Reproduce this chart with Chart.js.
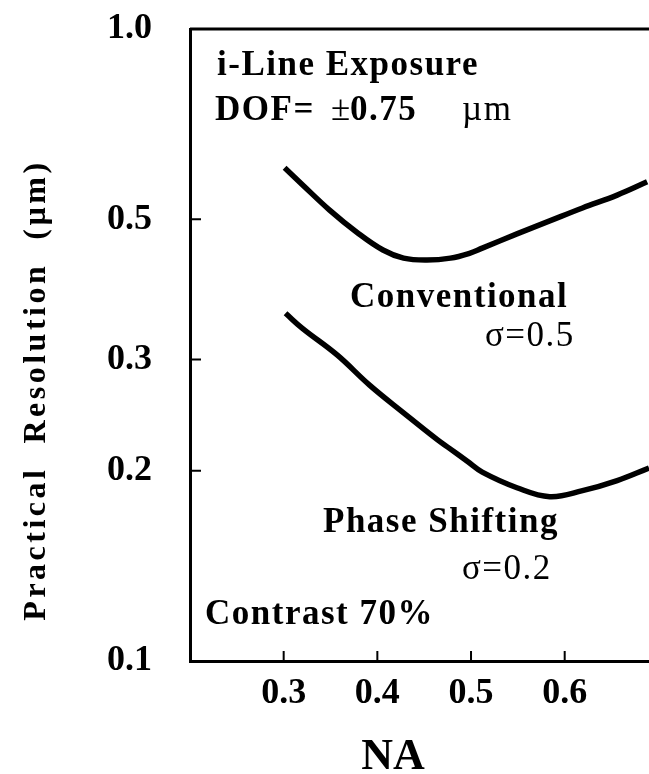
<!DOCTYPE html>
<html>
<head>
<meta charset="utf-8">
<script src="https://cdn.jsdelivr.net/npm/chart.js@4"></script>
<style>
  html, body { margin: 0; padding: 0; background: #fff; overflow: hidden; }
  #wrap { width: 649px; height: 774px; }
</style>
</head>
<body>
<div id="wrap"><canvas id="myChart" width="649" height="774"></canvas></div>
<script>
// NA (x) and practical resolution in um (y)
const naConventional = [0.301, 0.320, 0.349, 0.378, 0.406, 0.428, 0.453, 0.478, 0.499, 0.512, 0.549, 0.584, 0.619, 0.656, 0.688];
const resConventional = [0.603, 0.567, 0.517, 0.477, 0.447, 0.434, 0.431, 0.434, 0.442, 0.450, 0.474, 0.497, 0.521, 0.546, 0.573];

const naPhase = [0.302, 0.320, 0.357, 0.392, 0.428, 0.464, 0.477, 0.496, 0.512, 0.549, 0.584, 0.619, 0.656, 0.690];
const resPhase = [0.355, 0.336, 0.305, 0.273, 0.247, 0.224, 0.217, 0.207, 0.199, 0.188, 0.182, 0.186, 0.193, 0.202];

const xTicks = [0.3, 0.4, 0.5, 0.6];
const yTicks = [0.1, 0.2, 0.3, 0.5, 1.0];

const serif = "'Liberation Serif', 'DejaVu Serif', serif";

const toPoints = (xs, ys) => xs.map((x, i) => ({ x: x, y: ys[i] }));

// frame, inward ticks, axis titles and the notes inside the plot
const decorPlugin = {
    id: 'decor',
    afterDraw(chart) {
        const ctx = chart.ctx;
        const area = chart.chartArea;
        const xs = chart.scales.x;
        const ys = chart.scales.y;
        ctx.save();
        ctx.strokeStyle = '#000';
        ctx.lineWidth = 3;
        ctx.beginPath();
        ctx.moveTo(area.left, area.top);
        ctx.lineTo(area.right, area.top);
        ctx.stroke();

        ctx.lineWidth = 2;
        ctx.beginPath();
        [0.2, 0.3, 0.5].forEach(v => {
            const py = ys.getPixelForValue(v);
            ctx.moveTo(area.left, py);
            ctx.lineTo(area.left + 11, py);
        });
        xTicks.forEach(v => {
            const px = xs.getPixelForValue(v);
            ctx.moveTo(px, area.bottom);
            ctx.lineTo(px, area.bottom - 10);
        });
        ctx.stroke();

        ctx.fillStyle = '#000';
        ctx.textBaseline = 'middle';
        ctx.textAlign = 'left';
        ctx.letterSpacing = '1.5px';

        const note = (txt, x, y, weight, size) => {
            ctx.font = weight + ' ' + size + 'px ' + serif;
            ctx.fillText(txt, x, y);
        };
        note('i-Line Exposure', area.left + 27, area.top + 37, 'bold', 35);
        note('DOF=', area.left + 25, area.top + 82, 'bold', 35);
        note('±', area.left + 141, area.top + 82, 'normal', 35);
        note('0.75', area.left + 160, area.top + 82, 'bold', 35);
        note('µm', area.left + 272, area.top + 82, 'normal', 35);
        note('Conventional', area.left + 160, area.top + 269, 'bold', 35);
        note('σ=0.5', area.left + 295, area.top + 308, 'normal', 35);
        note('Phase Shifting', area.left + 133, area.top + 494, 'bold', 35);
        note('σ=0.2', area.left + 272, area.top + 541, 'normal', 35);
        note('Contrast 70%', area.left + 15, area.top + 586, 'bold', 35);

        // axis titles
        ctx.textAlign = 'center';
        ctx.letterSpacing = '0px';
        ctx.font = 'bold 44px ' + serif;
        ctx.fillText('NA', 393, 758);

        ctx.translate(37, 390);
        ctx.rotate(-Math.PI / 2);
        ctx.letterSpacing = '3.5px';
        ctx.font = 'bold 32px ' + serif;
        ctx.fillText('Practical  Resolution  (µm)', 0, 0);
        ctx.restore();
    }
};

const ctx = document.getElementById('myChart').getContext('2d');
const myChart = new Chart(ctx, {
    type: 'line',
    data: {
        datasets: [{
            label: 'Conventional σ=0.5',
            data: toPoints(naConventional, resConventional),
            borderColor: '#000',
            borderWidth: 5.5,
            pointRadius: 0,
            tension: 0.4,
            fill: false
        }, {
            label: 'Phase Shifting σ=0.2',
            data: toPoints(naPhase, resPhase),
            borderColor: '#000',
            borderWidth: 5.5,
            pointRadius: 0,
            tension: 0.4,
            fill: false
        }]
    },
    options: {
        responsive: false,
        animation: false,
        layout: { padding: { top: 29, right: 0, left: 0, bottom: 0 } },
        plugins: {
            legend: { display: false },
            tooltip: { enabled: false }
        },
        scales: {
            x: {
                type: 'linear',
                min: 0.2,
                max: 0.69,
                afterBuildTicks: s => { s.ticks = xTicks.map(v => ({ value: v })); },
                afterFit: s => { s.height = 113; s.paddingLeft = 0; s.paddingRight = 0; },
                ticks: {
                    autoSkip: false,
                    maxRotation: 0,
                    padding: 11,
                    color: '#000',
                    font: { family: serif, size: 36, weight: 'bold' },
                    callback: v => v.toFixed(1)
                },
                grid: { display: false, drawTicks: false },
                border: { display: true, color: '#000', width: 3 }
            },
            y: {
                type: 'logarithmic',
                min: 0.1,
                max: 1.0,
                afterBuildTicks: s => { s.ticks = yTicks.map(v => ({ value: v })); },
                afterFit: s => { s.width = 190; s.paddingTop = 0; s.paddingBottom = 0; },
                ticks: {
                    autoSkip: false,
                    padding: 38,
                    color: '#000',
                    font: { family: serif, size: 36, weight: 'bold' },
                    callback: v => Number(v).toFixed(1)
                },
                grid: { display: false, drawTicks: false },
                border: { display: true, color: '#000', width: 3 }
            }
        }
    },
    plugins: [decorPlugin]
});
</script>
</body>
</html>
